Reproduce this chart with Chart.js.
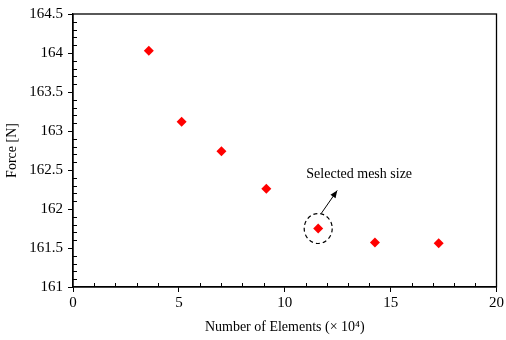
<!DOCTYPE html>
<html>
<head>
<meta charset="utf-8">
<script src="https://cdn.jsdelivr.net/npm/chart.js@4"></script>
<style>
  html, body { margin: 0; padding: 0; background: #fff; }
  #wrap { width: 506px; height: 340px; }
</style>
</head>
<body>
<div id="wrap"><canvas id="myChart" width="506" height="340"></canvas></div>
<script>
// Số phần tử (x 10^4) và lực tương ứng
var elements = [3.58, 5.13, 7.01, 9.13, 11.58, 14.26, 17.27];
var force = [164.03, 163.12, 162.74, 162.26, 161.75, 161.57, 161.56];
var selectedIndex = 4; // điểm được chọn
var xTicks = [0, 5, 10, 15, 20];
var yTicks = [161, 161.5, 162, 162.5, 163, 163.5, 164, 164.5];

var FONT = '"Liberation Serif", "Times New Roman", serif';

// plugin vẽ khung, vạch phụ và chú thích
var extras = {
    id: 'extras',
    afterDraw: function (chart) {
        var c = chart.ctx, a = chart.chartArea;
        var xs = chart.scales.x, ys = chart.scales.y;
        c.save();
        c.strokeStyle = '#000';
        c.lineWidth = 1.3;
        c.strokeRect(a.left, a.top, a.right - a.left, a.bottom - a.top);

        // vạch phụ hướng vào trong
        c.lineWidth = 1;
        c.beginPath();
        for (var v = 1; v < 20; v++) {
            if (v % 5 === 0) continue;
            var px = Math.round(xs.getPixelForValue(v)) + 0.5;
            c.moveTo(px, a.bottom); c.lineTo(px, a.bottom - 4);
        }
        for (var k = 1; k < 35; k++) {
            if (k % 5 === 0) continue;
            var py = Math.round(ys.getPixelForValue(161 + k * 0.1)) + 0.5;
            c.moveTo(a.left, py); c.lineTo(a.left + 4, py);
        }
        c.stroke();

        // vòng tròn nét đứt quanh điểm được chọn
        var cx = xs.getPixelForValue(elements[selectedIndex]);
        var cy = ys.getPixelForValue(force[selectedIndex]);
        c.setLineDash([4, 3]);
        c.lineWidth = 1.2;
        c.beginPath();
        c.ellipse(cx, cy, 14, 15, 0, 0, Math.PI * 2);
        c.stroke();
        c.setLineDash([]);

        // mũi tên
        var x1 = cx + 3, y1 = cy - 15;
        var x2 = cx + 19, y2 = cy - 38;
        c.lineWidth = 1;
        c.beginPath(); c.moveTo(x1, y1); c.lineTo(x2, y2); c.stroke();
        var ang = Math.atan2(y2 - y1, x2 - x1);
        c.fillStyle = '#000';
        c.beginPath();
        c.moveTo(x2, y2);
        c.lineTo(x2 - 8 * Math.cos(ang - 0.4), y2 - 8 * Math.sin(ang - 0.4));
        c.lineTo(x2 - 8 * Math.cos(ang + 0.4), y2 - 8 * Math.sin(ang + 0.4));
        c.closePath(); c.fill();

        // chữ
        c.font = '14px ' + FONT;
        c.textAlign = 'center';
        c.textBaseline = 'middle';
        c.fillText('Selected mesh size', cx + 41, cy - 54);
        c.restore();
    }
};

var ctx = document.getElementById('myChart').getContext('2d');
var chart = new Chart(ctx, {
    type: 'scatter',
    data: {
        datasets: [{
            label: 'Force',
            data: elements.map(function (x, i) { return { x: x, y: force[i] }; }),
            pointStyle: 'rectRot',
            pointRadius: 5,
            pointHoverRadius: 5,
            backgroundColor: '#ff0000',
            borderColor: '#ff0000',
            borderWidth: 0
        }]
    },
    options: {
        responsive: false,
        animation: false,
        layout: { padding: { top: 12, right: 8, left: 0, bottom: 0 } },
        plugins: { legend: { display: false }, tooltip: { enabled: false } },
        scales: {
            x: {
                type: 'linear',
                min: 0, max: 20,
                afterBuildTicks: function (s) { s.ticks = xTicks.map(function (v) { return { value: v }; }); },
                afterFit: function (s) { s.height = 53; },
                grid: { display: true, drawOnChartArea: false, tickLength: 5, color: '#000' },
                border: { display: true, color: '#000', width: 1.3 },
                ticks: { color: '#000', font: { family: FONT, size: 15 }, padding: 2, maxRotation: 0,
                         callback: function (v) { return String(v); } },
                title: { display: true, text: 'Number of Elements (× 10⁴)', color: '#000',
                         font: { family: FONT, size: 14 }, padding: { top: 2 } }
            },
            y: {
                type: 'linear',
                min: 161, max: 164.5,
                afterBuildTicks: function (s) { s.ticks = yTicks.map(function (v) { return { value: v }; }); },
                afterFit: function (s) { s.width = 73; },
                grid: { display: true, drawOnChartArea: false, tickLength: 5, color: '#000' },
                border: { display: true, color: '#000', width: 1.3 },
                ticks: { color: '#000', font: { family: FONT, size: 15 }, padding: 5,
                         callback: function (v) { return String(v); } },
                title: { display: true, text: 'Force [N]', color: '#000',
                         font: { family: FONT, size: 14 }, padding: { bottom: 0 } }
            }
        }
    },
    plugins: [extras]
});
</script>
</body>
</html>
